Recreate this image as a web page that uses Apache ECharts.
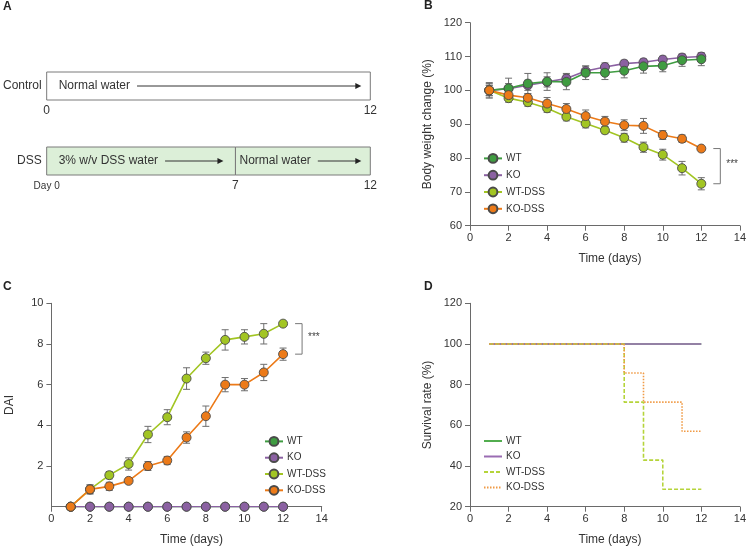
<!DOCTYPE html>
<html><head><meta charset="utf-8">
<script src="https://cdn.jsdelivr.net/npm/echarts@6/dist/echarts.min.js"></script>
<style>html,body{margin:0;padding:0;background:#fff}#c{width:749px;height:548px}</style>
</head><body><div id="c"></div>
<script>
// ---------- DATA ----------
const days = [1,2,3,4,5,6,7,8,9,10,11,12];
const groups = ['WT','KO','WT-DSS','KO-DSS'];

// Panel A: protocol
const rows = ['Control','DSS'];
const phaseRow = [0, 1, 1];
const phaseStart = [0, 0, 7];
const phaseEnd = [12, 7, 12];
const phaseLabel = ['Normal water', '3% w/v DSS water', 'Normal water'];
const phaseFill = ['#ffffff', '#dcefd8', '#dcefd8'];
const tickRow = [0, 0, 1, 1, 1];
const tickDay = [0, 12, 0, 7, 12];
const tickLabel = ['0', '12', 'Day 0', '7', '12'];

// Panel B: body weight change (%)
const bwWT    = [100, 100.6, 102.0, 102.6, 102.5, 105.2, 105.2, 105.8, 107.1, 107.3, 108.9, 109.2];
const bwWTe   = [2.3, 3.0, 3.0, 2.6, 2.3, 2.0, 2.0, 2.1, 2.0, 1.8, 1.8, 1.9];
const bwKO    = [100, 100.5, 101.5, 102.5, 103.5, 105.7, 106.9, 107.9, 108.3, 109.1, 109.7, 110.0];
const bwKOe   = [2.0, 1.5, 1.5, 1.5, 1.5, 1.5, 1.2, 1.0, 1.0, 1.0, 1.0, 1.0];
const bwWTD   = [100, 97.7, 96.5, 94.7, 92.2, 90.2, 88.2, 86.0, 83.2, 81.0, 77.0, 72.4];
const bwWTDe  = [1.5, 1.2, 1.2, 1.2, 1.2, 1.3, 1.0, 1.3, 1.5, 1.6, 2.0, 1.8];
const bwKOD   = [100, 98.6, 97.8, 96.1, 94.5, 92.4, 90.8, 89.7, 89.5, 86.8, 85.7, 82.8];
const bwKODe  = [1.5, 1.0, 1.2, 1.8, 1.6, 1.8, 1.5, 1.6, 2.2, 1.3, 1.1, 0.5];

// Panel C: DAI
const daiWT   = [0,0,0,0,0,0,0,0,0,0,0,0];
const daiKO   = [0,0,0,0,0,0,0,0,0,0,0,0];
const daiWTD  = [0, 0.85, 1.55, 2.1, 3.55, 4.4, 6.3, 7.3, 8.2, 8.35, 8.5, 9.0];
const daiWTDe = [0, 0.23, 0.18, 0.3, 0.4, 0.37, 0.53, 0.3, 0.5, 0.35, 0.5, 0];
const daiKOD  = [0, 0.85, 1.0, 1.27, 2.0, 2.27, 3.4, 4.45, 6.0, 6.0, 6.6, 7.5];
const daiKODe = [0, 0.2, 0.2, 0.14, 0.22, 0.2, 0.28, 0.5, 0.35, 0.3, 0.4, 0.3];

// Panel D: survival rate (%)
const svWT  = [100,100,100,100,100,100,100,100,100,100,100,100];
const svKO  = [100,100,100,100,100,100,100,100,100,100,100,100];
const svWTD = [100,100,100,100,100,100,100,71.4,42.9,28.6,28.6,28.6];
const svKOD = [100,100,100,100,100,100,100,85.7,71.4,71.4,57.1,57.1];

// ---------- STYLE ----------
const FONT = '"Liberation Sans", Arial, sans-serif';
const col = {
  'WT': '#3f9c41', 'KO': '#8b61a2', 'WT-DSS': '#a2c523', 'KO-DSS': '#ec7a18'
};
const colD = {
  'WT': '#52ad4f', 'KO': '#9a6cb3', 'WT-DSS': '#b5d43a', 'KO-DSS': '#f09a45'
};
const AX = '#6a6a6a';

const chart = echarts.init(document.getElementById('c'), null, {renderer: 'canvas'});

const ctx = document.createElement('canvas').getContext('2d');
ctx.font = '12px ' + FONT;

function pairs(v) { return days.map((d, i) => [d, v[i]]); }
function errs(v, e) {
  const out = [];
  days.forEach((d, i) => { if (e[i] > 0) out.push([d, v[i] - e[i], v[i] + e[i]]); });
  return out;
}
function errRender(params, api) {
  const x = api.value(0);
  const p1 = api.coord([x, api.value(1)]);
  const p2 = api.coord([x, api.value(2)]);
  const w = 3.5, st = {stroke: '#6e6e6e', lineWidth: 1};
  return {type: 'group', children: [
    {type: 'line', shape: {x1: p1[0], y1: p1[1], x2: p2[0], y2: p2[1]}, style: st},
    {type: 'line', shape: {x1: p1[0]-w, y1: p1[1], x2: p1[0]+w, y2: p1[1]}, style: st},
    {type: 'line', shape: {x1: p2[0]-w, y1: p2[1], x2: p2[0]+w, y2: p2[1]}, style: st}
  ]};
}
function bracketRender(params, api) {
  const a = api.coord([api.value(0), api.value(1)]);
  const b = api.coord([api.value(0), api.value(2)]);
  const x1 = a[0] + 12, x2 = a[0] + 19;
  return {type: 'group', children: [
    {type: 'polyline', shape: {points: [[x1, a[1]], [x2, a[1]], [x2, b[1]], [x1, b[1]]]},
     style: {stroke: '#777', lineWidth: 1, fill: null}},
    {type: 'text', style: {text: '***', x: x2 + 6, y: (a[1] + b[1]) / 2 - 2, fill: '#444',
      font: '10px ' + FONT, align: 'left', verticalAlign: 'middle'}}
  ]};
}

function valueX(gi, extra) {
  return Object.assign({
    type: 'value', gridIndex: gi, min: 0, max: 14, interval: 2,
    name: 'Time (days)', nameLocation: 'middle', nameGap: 27,
    nameTextStyle: {fontSize: 12, color: '#333', fontFamily: FONT, padding: [0, 0, 0, 10]},
    axisLine: {onZero: false, lineStyle: {color: AX, width: 1}},
    axisTick: {show: true, length: 5, lineStyle: {color: AX}},
    axisLabel: {fontSize: 11, color: '#333', fontFamily: FONT, margin: 7},
    splitLine: {show: false}
  }, extra || {});
}
function valueY(gi, min, max, interval, name, extra) {
  return Object.assign({
    type: 'value', gridIndex: gi, min: min, max: max, interval: interval,
    name: name, nameLocation: 'middle', nameGap: 36,
    nameTextStyle: {fontSize: 12, color: '#333', fontFamily: FONT},
    axisLine: {show: true, lineStyle: {color: AX, width: 1}},
    axisTick: {show: true, length: 5, lineStyle: {color: AX}},
    axisLabel: {fontSize: 11, color: '#333', fontFamily: FONT, margin: 8},
    splitLine: {show: false}
  }, extra || {});
}

function lineSeries(name, panel, data, xi, yi, z) {
  return {
    type: 'line', name: name + '|' + panel, xAxisIndex: xi, yAxisIndex: yi,
    data: pairs(data), symbol: 'circle', symbolSize: 9, z: z,
    lineStyle: {color: col[name], width: 1.6},
    itemStyle: {color: col[name], borderColor: '#4a4a4a', borderWidth: 0.9},
    emphasis: {disabled: true}, animation: false
  };
}
function errSeries(v, e, xi, yi) {
  return {type: 'custom', xAxisIndex: xi, yAxisIndex: yi, renderItem: errRender,
    data: errs(v, e), encode: {x: 0, y: [1, 2]}, z: 1, silent: true, animation: false};
}
function survSeries(name, data, dash, z) {
  return {
    type: 'line', name: name + '|D', xAxisIndex: 3, yAxisIndex: 3, step: 'end',
    data: pairs(data), symbol: 'circle', symbolSize: 0, showSymbol: false, z: z,
    lineStyle: {color: colD[name], width: 1.6, type: dash},
    itemStyle: {color: colD[name]}, emphasis: {disabled: true}, animation: false
  };
}
function legend(panel, left, top, gap, noSymbol) {
  const l = {
    data: groups.map(g => ({name: g + '|' + panel})),
    orient: 'vertical', left: left, top: top, itemGap: gap,
    itemWidth: 18, itemHeight: 11, selectedMode: false,
    formatter: n => n.split('|')[0],
    textStyle: {fontSize: 10, color: '#333', fontFamily: FONT, padding: [0, 0, 0, -1]}
  };
  if (noSymbol) l.itemStyle = {opacity: 0};
  return l;
}

// Panel A renderers
function phaseRender(params, api) {
  const i = params.dataIndex;
  const r = phaseRow[i];
  const a = api.coord([phaseStart[i], r]);
  const b = api.coord([phaseEnd[i], r]);
  const h = 14;
  const tx = a[0] + (phaseStart[i] === 0 ? 12 : 4);
  const tw = ctx.measureText(phaseLabel[i]).width;
  const ax1 = tx + tw + 7;
  const ax2 = b[0] - (phaseEnd[i] === 12 ? 9 : 12);
  return {type: 'group', children: [
    {type: 'rect', shape: {x: a[0], y: a[1] - h, width: b[0] - a[0], height: 2 * h},
     style: {fill: phaseFill[i], stroke: '#7a7a7a', lineWidth: 1}},
    {type: 'text', style: {text: phaseLabel[i], x: tx, y: a[1], fill: '#333',
      font: '12px ' + FONT, align: 'left', verticalAlign: 'middle'}},
    {type: 'line', shape: {x1: ax1, y1: a[1], x2: ax2 - 5, y2: a[1]},
     style: {stroke: '#333', lineWidth: 1}},
    {type: 'polygon', shape: {points: [[ax2 - 6, a[1] - 3], [ax2, a[1]], [ax2 - 6, a[1] + 3]]},
     style: {fill: '#222'}}
  ]};
}
function tickRender(params, api) {
  const i = params.dataIndex;
  const p = api.coord([tickDay[i], tickRow[i]]);
  const small = tickLabel[i].length > 2;
  return {type: 'text', style: {text: tickLabel[i], x: p[0], y: p[1] + 25, fill: '#333',
    font: (small ? '10px ' : '12px ') + FONT, align: 'center', verticalAlign: 'middle'}};
}

const option = {
  backgroundColor: '#fff',
  animation: false,
  textStyle: {fontFamily: FONT},
  grid: [
    {left: 45.3, width: 325, top: 48.5, height: 150},
    {left: 470, width: 271.7, top: 22.7, height: 203},
    {left: 51.4, width: 270.3, top: 303.3, height: 203.4},
    {left: 470, width: 271.7, top: 303.3, height: 203.4}
  ],
  xAxis: [
    {type: 'value', gridIndex: 0, min: 0, max: 12, show: false},
    valueX(1),
    valueX(2),
    valueX(3)
  ],
  yAxis: [
    {type: 'category', gridIndex: 0, data: rows, inverse: true,
     axisLine: {show: false}, axisTick: {show: false},
     axisLabel: {fontSize: 12, color: '#333', fontFamily: FONT, margin: 5}},
    valueY(1, 60, 120, 10, 'Body weight change (%)'),
    valueY(2, 0, 10, 2, 'DAI', {axisLabel: {fontSize: 11, color: '#333', fontFamily: FONT, margin: 8, showMinLabel: false}}),
    valueY(3, 20, 120, 20, 'Survival rate (%)')
  ],
  legend: [
    legend('B', 478, 148, 6),
    legend('C', 259, 431, 5.5),
    legend('D', 478, 431, 5.5, true)
  ],
  graphic: [
    {type: 'text', left: 3, top: 1, style: {text: 'A', font: 'bold 12px ' + FONT, fill: '#222'}},
    {type: 'text', left: 424, top: 0, style: {text: 'B', font: 'bold 12px ' + FONT, fill: '#222'}},
    {type: 'text', left: 3, top: 281, style: {text: 'C', font: 'bold 12px ' + FONT, fill: '#222'}},
    {type: 'text', left: 424, top: 281, style: {text: 'D', font: 'bold 12px ' + FONT, fill: '#222'}}
  ],
  series: [
    {type: 'custom', xAxisIndex: 0, yAxisIndex: 0, renderItem: phaseRender,
     data: phaseStart.map((s, i) => [s, phaseRow[i]]), encode: {x: 0, y: 1}, silent: true},
    {type: 'custom', xAxisIndex: 0, yAxisIndex: 0, renderItem: tickRender,
     data: tickDay.map((d, i) => [d, tickRow[i]]), encode: {x: 0, y: 1}, silent: true},

    // Panel B
    errSeries(bwKO, bwKOe, 1, 1),
    errSeries(bwWT, bwWTe, 1, 1),
    errSeries(bwWTD, bwWTDe, 1, 1),
    errSeries(bwKOD, bwKODe, 1, 1),
    lineSeries('KO', 'B', bwKO, 1, 1, 2),
    lineSeries('WT', 'B', bwWT, 1, 1, 3),
    lineSeries('WT-DSS', 'B', bwWTD, 1, 1, 4),
    lineSeries('KO-DSS', 'B', bwKOD, 1, 1, 5),
    {type: 'custom', xAxisIndex: 1, yAxisIndex: 1, renderItem: bracketRender, silent: true,
     data: [[days[11], bwKOD[11], bwWTD[11]]], encode: {x: 0, y: [1, 2]}},

    // Panel C
    errSeries(daiWTD, daiWTDe, 2, 2),
    errSeries(daiKOD, daiKODe, 2, 2),
    lineSeries('WT', 'C', daiWT, 2, 2, 2),
    lineSeries('KO', 'C', daiKO, 2, 2, 3),
    lineSeries('WT-DSS', 'C', daiWTD, 2, 2, 4),
    lineSeries('KO-DSS', 'C', daiKOD, 2, 2, 5),
    {type: 'custom', xAxisIndex: 2, yAxisIndex: 2, renderItem: bracketRender, silent: true,
     data: [[days[11], daiWTD[11], daiKOD[11]]], encode: {x: 0, y: [1, 2]}},

    // Panel D
    survSeries('WT', svWT, 'solid', 2),
    survSeries('KO', svKO, 'solid', 3),
    survSeries('WT-DSS', svWTD, [4, 2], 4),
    survSeries('KO-DSS', svKOD, [1.5, 1.5], 5)
  ]
};
chart.setOption(option);
</script>
</body></html>
